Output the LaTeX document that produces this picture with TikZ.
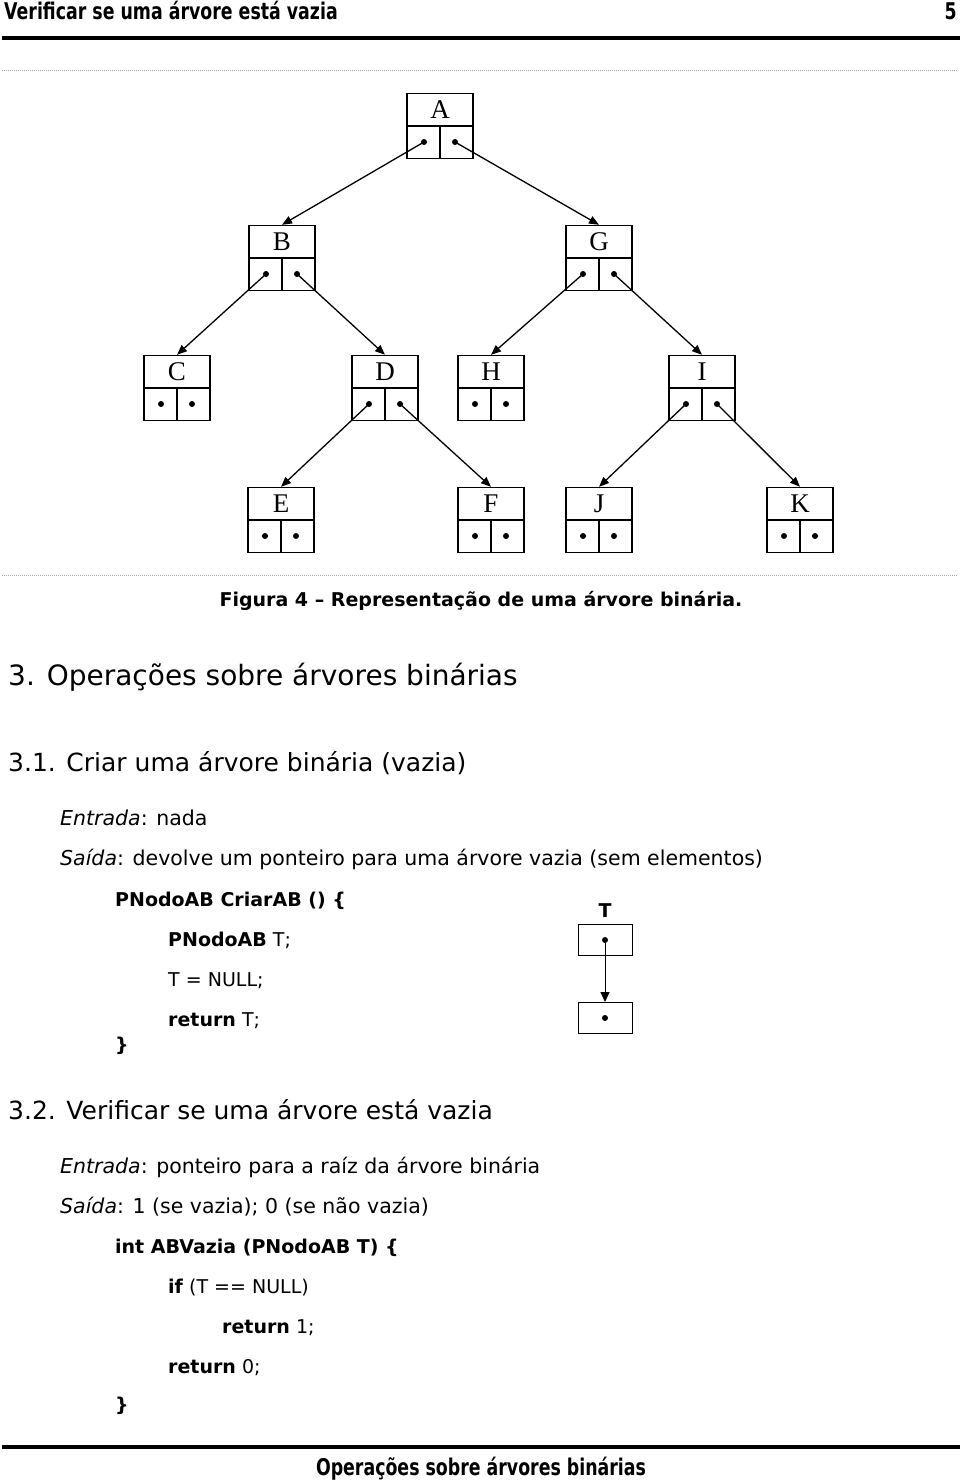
\documentclass[tikz,border=0pt]{standalone}
\usepackage{fontspec}
\usepackage{tikz}
\setmainfont{DejaVu Sans}
\newfontfamily\hdfont[FakeStretch=0.755]{DejaVu Sans}
\newfontfamily\treefont{Liberation Serif}
\usetikzlibrary{arrows.meta}

\tikzset{
  treebox/.style={draw, line width=1.4pt, minimum width=66pt, minimum height=65pt, inner sep=0pt},
  treelabel/.style={font=\treefont\fontsize{27}{27}\selectfont, inner sep=0pt},
  ptrarrow/.style={line width=1.3pt, -{Triangle[length=10pt,width=8pt]}},
  txt/.style={anchor=base west, inner sep=0pt, font=\fontsize{20.5}{24}\selectfont},
  code/.style={txt, font=\fontsize{19}{22}\selectfont},
  rule/.style={line width=3.5pt},
  fineline/.style={gray!70, line width=0.8pt, dash pattern=on 1pt off 1pt}
}

\begin{document}
\begin{tikzpicture}[x=1pt, y=-1pt]
\useasboundingbox (0,0) rectangle (960,1482);

% page header
\node[anchor=base west, inner sep=0pt, font=\hdfont\bfseries\fontsize{23}{23}\selectfont] (head) at (4,20) {Verificar se uma árvore está vazia};
\node[anchor=base east, inner sep=0pt, font=\hdfont\bfseries\fontsize{23}{23}\selectfont] (pagenum) at (957,20) {5};
\draw[rule] (2,38) -- (960,38);
\draw[fineline] (2,70) -- (958,70);

% the tree
\foreach \n/\x/\y in {A/440/126, B/282/258, G/599/258, C/177/388, D/385/388, H/491/388, I/702/388, E/281/520, F/491/520, J/599/520, K/800/520}
{
  \node[treebox] (\n) at (\x,\y) {};
  \draw[line width=1.4pt] (\n.west) -- (\n.east) (\n.center) -- (\n.south);
  \node[treelabel] (\n-lbl) at ([yshift=16pt]\n.center) {\n};
  \coordinate (\n-l) at ([xshift=-16pt,yshift=-16pt]\n.center);
  \coordinate (\n-r) at ([xshift=15pt,yshift=-16pt]\n.center);
  \fill (\n-l) circle (3pt) (\n-r) circle (3pt);
}
\foreach \p/\s/\c in {A/l/B, A/r/G, B/l/C, B/r/D, G/l/H, G/r/I, D/l/E, D/r/F, I/l/J, I/r/K}
  \draw[ptrarrow] (\p-\s) -- (\c.north);

\draw[fineline] (2,575) -- (958,575);
\node[anchor=base, inner sep=0pt, font=\bfseries\fontsize{19}{22}\selectfont] (fig) at (481,606) {Figura 4 -- Representação de uma árvore binária.};

% 3. and 3.1
\node[txt, font=\fontsize{28}{32}\selectfont] (sec3) at (8,685) {3. Operações sobre árvores binárias};
\node[txt, font=\fontsize{25}{28}\selectfont] (sec31) at (8,771) {3.1. Criar uma árvore binária (vazia)};
\node[txt] (in1) at (60,825) {\textit{Entrada}: nada};
\node[txt] (out1) at (60,865) {\textit{Saída}: devolve um ponteiro para uma árvore vazia (sem elementos)};
\node[code] (c1) at (115,906) {\textbf{PNodoAB CriarAB () \{}};
\node[code] (c2) at (168,946) {\textbf{PNodoAB} T;};
\node[code] (c3) at (168,986) {T = NULL;};
\node[code] (c4) at (168,1026) {\textbf{return} T;};
\node[code] (c5) at (115,1051) {\textbf{\}}};

% pointer T
\node[anchor=base, inner sep=0pt, font=\bfseries\fontsize{19}{22}\selectfont] (tname) at (605,917) {T};
\node[draw, line width=1pt, minimum width=54pt, minimum height=31pt, inner sep=0pt] (tbox) at (605,940) {};
\node[draw, line width=1pt, minimum width=54pt, minimum height=31pt, inner sep=0pt] (nullbox) at (605,1018) {};
\fill (tbox.center) circle (3pt) (nullbox.center) circle (3pt);
\draw[line width=1pt, -{Triangle[length=10pt,width=9pt]}] (tbox.center) -- (nullbox.north);

% 3.2
\node[txt, font=\fontsize{25}{28}\selectfont] (sec32) at (8,1119) {3.2. Verificar se uma árvore está vazia};
\node[txt] (in2) at (60,1173) {\textit{Entrada}: ponteiro para a raíz da árvore binária};
\node[txt] (out2) at (60,1213) {\textit{Saída}: 1 (se vazia); 0 (se não vazia)};
\node[code] (d1) at (115,1253) {\textbf{int ABVazia (PNodoAB T) \{}};
\node[code] (d2) at (168,1293) {\textbf{if} (T == NULL)};
\node[code] (d3) at (222,1333) {\textbf{return} 1;};
\node[code] (d4) at (168,1373) {\textbf{return} 0;};
\node[code] (d5) at (115,1411) {\textbf{\}}};

% page footer
\draw[rule] (2,1447) -- (960,1447);
\node[anchor=base, inner sep=0pt, font=\hdfont\bfseries\fontsize{23}{23}\selectfont] (foot) at (481,1475) {Operações sobre árvores binárias};
\end{tikzpicture}
\end{document}
